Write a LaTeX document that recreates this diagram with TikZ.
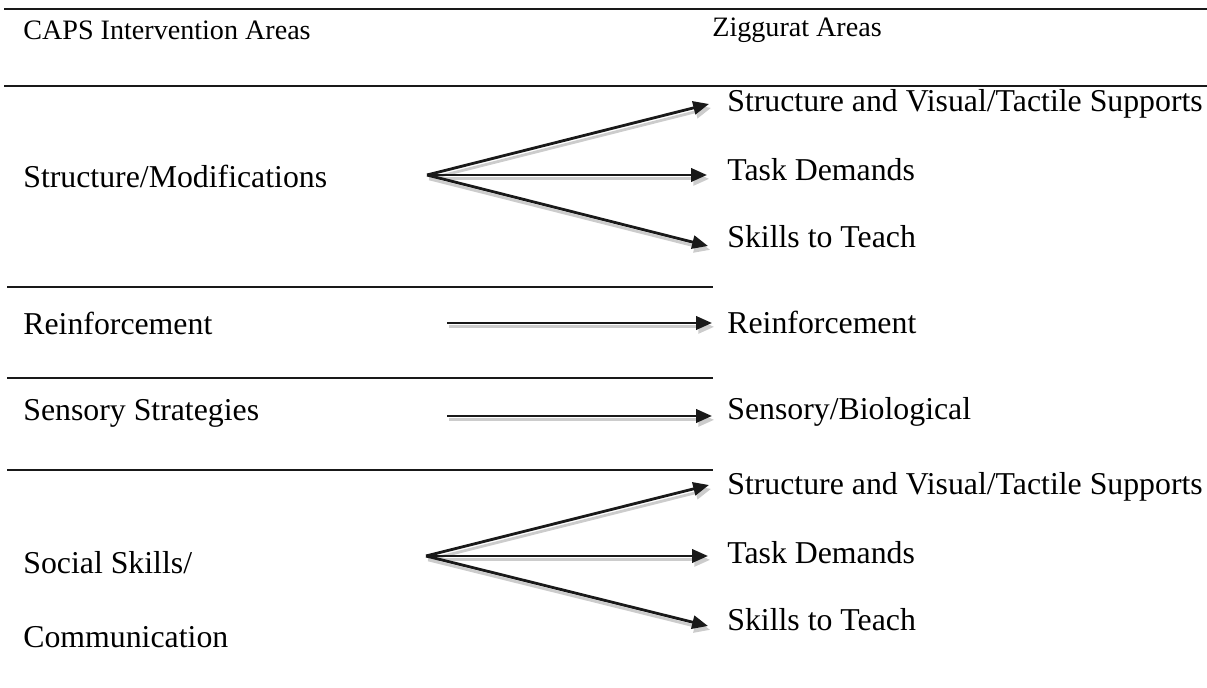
\documentclass[tikz,border=0pt]{standalone}
\usepackage{fontspec}
\setmainfont{Liberation Serif}
\usetikzlibrary{arrows.meta}

\tikzset{
	rule/.style={line width=1.4pt, black!90},
	lbl/.style={anchor=west, inner sep=0pt, font=\fontsize{18.1}{22}\selectfont},
	head/.style={lbl, font=\fontsize{16}{19}\selectfont},
	link/.style={line width=1.6pt, black!90, -{Triangle[length=9pt,width=7.5pt]},
		preaction={draw, black!20, line width=1.6pt, transform canvas={shift={(1.2pt,-2.2pt)}}}},
}

\begin{document}
\begin{tikzpicture}[x=0.02cm, y=-0.02cm]
	\useasboundingbox (0,0) rectangle (1207,688);

	% rules
	\draw[rule] (4,9) -- (1207,9);
	\draw[rule] (4,86) -- (1207,86);
	\draw[rule] (7,287) -- (713,287);
	\draw[rule] (7,378) -- (713,378);
	\draw[rule] (7,470) -- (713,470);

	% heads
	\node[head] (caps) at (23,30) {CAPS Intervention Areas};
	\node[head] (zig) at (712,30) {Ziggurat Areas};

	% left column
	\node[lbl] (struct) at (23,176) {Structure/Modifications};
	\node[lbl] (reinfL) at (23,323) {Reinforcement};
	\node[lbl] (sensL) at (23,413) {Sensory Strategies};
	\node[lbl] (social) at (23,563) {Social Skills/};
	\node[lbl] (comm) at (23,637) {Communication};

	% right column
	\node[lbl] (supA) at (727,104) {Structure and Visual/Tactile Supports};
	\node[lbl] (taskA) at (727,170) {Task Demands};
	\node[lbl] (teachA) at (727,237) {Skills to Teach};
	\node[lbl] (reinfR) at (727,322) {Reinforcement};
	\node[lbl] (sensR) at (727,412) {Sensory/Biological};
	\node[lbl] (supB) at (727,487) {Structure and Visual/Tactile Supports};
	\node[lbl] (taskB) at (727,553) {Task Demands};
	\node[lbl] (teachB) at (727,620) {Skills to Teach};

	% arrow ends
	\coordinate (oA) at (427,175);
	\coordinate (tA1) at (709,104);
	\coordinate (tA2) at (707,175);
	\coordinate (tA3) at (708,246);
	\coordinate (oR) at (447,323);
	\coordinate (tR) at (712,323);
	\coordinate (oS) at (447,416);
	\coordinate (tS) at (712,416);
	\coordinate (oB) at (426,556);
	\coordinate (tB1) at (709,485);
	\coordinate (tB2) at (708,556);
	\coordinate (tB3) at (708,626);

	\draw[link] (oA) -- (tA1);
	\draw[link] (oA) -- (tA2);
	\draw[link] (oA) -- (tA3);
	\draw[link] (oR) -- (tR);
	\draw[link] (oS) -- (tS);
	\draw[link] (oB) -- (tB1);
	\draw[link] (oB) -- (tB2);
	\draw[link] (oB) -- (tB3);

\end{tikzpicture}
\end{document}
